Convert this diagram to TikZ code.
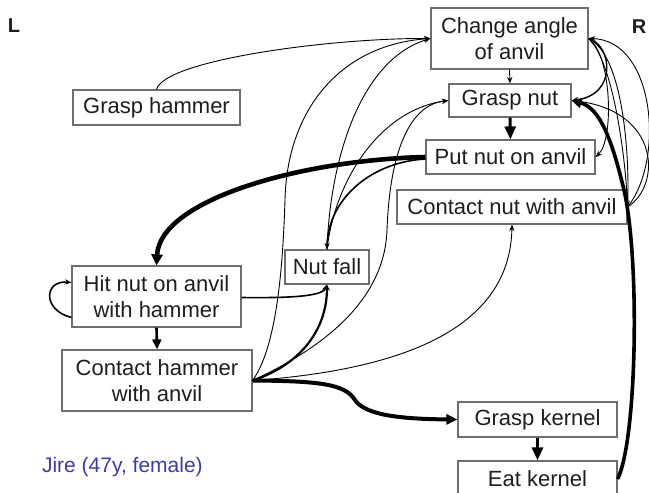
\documentclass[tikz,border=0pt]{standalone}
\usepackage{fontspec}
\setmainfont{Liberation Sans}
\usetikzlibrary{arrows.meta,calc}
\definecolor{boxgray}{RGB}{110,110,110}
\definecolor{txt}{RGB}{30,30,30}
\definecolor{jblue}{RGB}{60,60,165}
\begin{document}
\begin{tikzpicture}[x=0.5pt,y=-0.5pt,
  box/.style={draw=boxgray,line width=0.6pt,fill=white,inner sep=0pt,align=center,text=txt,font=\fontsize{11}{13.3}\selectfont},
  thinarr/.style={line width=0.45pt,-{Stealth[length=3.2pt,width=2.6pt]}},
  midarr/.style={line width=0.8pt,-{Stealth[length=3.2pt,width=2.6pt]}},
  medarr/.style={line width=1.1pt,-{Stealth[length=3pt,width=2.8pt]}},
  bigarr/.style={line width=1.5pt,-{Triangle[length=6.5pt,width=5.5pt]}},
  heavyarr/.style={line width=2.3pt,-{Triangle[length=5.5pt,width=5.5pt]}},
]
\useasboundingbox (0,0) rectangle (649,493);
% nodes
\node[box,minimum width=78.5pt,minimum height=30.5pt] (ca) at (509.5,38.5) {Change angle\\of anvil};
\node[box,minimum width=83.5pt,minimum height=17.5pt] (gh) at (156.5,107.5) {Grasp hammer};
\node[box,minimum width=61pt,minimum height=16.5pt] (gn) at (510,100.5) {Grasp nut};
\node[box,minimum width=84.5pt,minimum height=17pt] (pn) at (510.5,157) {Put nut on anvil};
\node[box,minimum width=115pt,minimum height=17pt] (cn) at (512,207) {Contact nut with anvil};
\node[box,minimum width=42pt,minimum height=17pt] (nf) at (327,267) {Nut fall};
\node[box,minimum width=84.5pt,minimum height=30.5pt] (hn) at (156.5,296.5) {Hit nut on anvil\\with hammer};
\node[box,minimum width=95pt,minimum height=30.5pt] (ch) at (157,380.5) {Contact hammer\\with anvil};
\node[box,minimum width=79.5pt,minimum height=17.5pt] (gk) at (537.5,419.5) {Grasp kernel};
\node[box,minimum width=79.5pt,minimum height=18pt] (ek) at (537.5,479) {Eat kernel};
\node[font=\bfseries\fontsize{10}{12}\selectfont,text=txt] (L) at (14,26) {L};
\node[font=\bfseries\fontsize{10}{12}\selectfont,text=txt] (R) at (639,27) {R};
\node[anchor=west,text=jblue,font=\fontsize{10.5}{12}\selectfont] (jire) at (35,467) {Jire (47y, female)};
% straight arrows
\draw[thinarr] (ca.south) -- (gn.north);
\draw[bigarr] (gn.south) -- (pn.north);
\draw[bigarr] (gk.south) -- (ek.north);
\draw[line width=1.3pt,-{Triangle[length=5pt,width=4.5pt]}] (hn.south) -- (ch.north);
% self loop
\draw[midarr] ($(hn.west)+(0,21)$) .. controls (42,310) and (44,280) .. ($(hn.west)+(0,-14)$);
% left-side curves
\draw[thinarr] (gh.north) .. controls (165,60) and (330,38) .. (ca.west);
\draw[heavyarr] (pn.west) .. controls (300,160) and (160,200) .. (hn.north);
\draw[line width=2pt,-{Triangle[length=5.5pt,width=5pt]}] (ch.east) .. controls (320,381) and (345,384) .. (355,400) .. controls (365,415) and (400,419) .. (gk.west);
\draw[line width=1.8pt,-{Triangle[length=5pt,width=5pt]}] (ek.east) .. controls (637,440) and (640,260) .. (624,190) .. controls (612,140) and (600,108) .. (gn.east);
\draw[midarr] ($(hn.east)+(0,1)$) .. controls (285,298) and (322,297) .. (nf.south);
\draw[medarr] (ch.east) .. controls (300,365) and (327,330) .. (nf.south);
\draw[thinarr] (ch.east) .. controls (278,345) and (283,260) .. (285,200) .. controls (287,110) and (340,45) .. (ca.west);
\draw[thinarr] (ch.east) .. controls (340,340) and (385,290) .. (387,230) .. controls (390,150) and (410,105) .. (gn.west);
\draw[thinarr] (ch.east) .. controls (400,370) and (510,330) .. (cn.south);
\draw[midarr] ($(pn.west)+(0,2)$) .. controls (370,162) and (328,200) .. (nf.north);
\draw[thinarr] (nf.north) .. controls (330,160) and (360,60) .. (ca.west);
\draw[thinarr] (nf.north) .. controls (335,180) and (380,110) .. (gn.west);
% right-side curves
\draw[line width=0.7pt,-{Stealth[length=3.4pt,width=2.8pt]}] (ca.east) .. controls (612,45) and (618,95) .. (gn.east);
\draw[thinarr] (ca.east) .. controls (612,55) and (614,140) .. (pn.east);
\draw[thinarr] (cn.east) .. controls (665,160) and (655,40) .. (ca.east);
\draw[thinarr] (ca.east) .. controls (612,60) and (625,150) .. (cn.east);
\draw[thinarr] (cn.east) .. controls (630,150) and (622,60) .. (ca.east);
\draw[thinarr] (cn.east) .. controls (662,185) and (660,110) .. (gn.east);
\end{tikzpicture}
\end{document}
